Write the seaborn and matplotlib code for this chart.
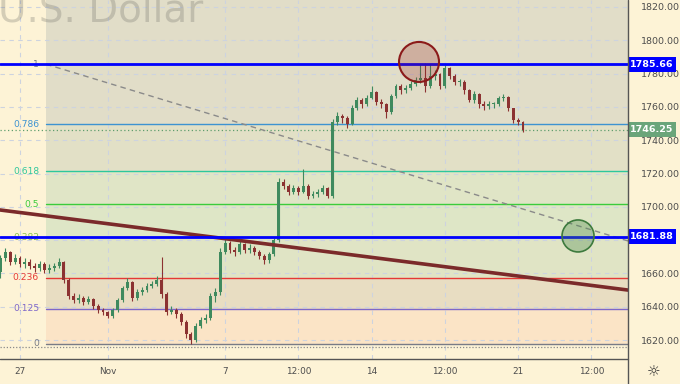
import numpy as np
import pandas as pd
import matplotlib
matplotlib.use("Agg")
import matplotlib.pyplot as plt
import seaborn as sns
from matplotlib.patches import Ellipse, Rectangle
from matplotlib.lines import Line2D

# ---------------- data ----------------
first_open = 1660.8
close = [1669.2, 1672.9, 1666.8, 1669.2, 1665.6, 1666.8, 1664.4, 1663.2, 1665.6, 1662.0,
         1663.2, 1664.4, 1666.8, 1656.0, 1646.4, 1644.0, 1645.2, 1642.8, 1644.6, 1640.4,
         1638.0, 1636.8, 1634.4, 1638.0, 1644.0, 1651.2, 1654.8, 1645.2, 1648.8, 1650.0,
         1652.4, 1653.6, 1656.0, 1647.6, 1636.8, 1638.0, 1635.6, 1630.8, 1623.6, 1620.2,
         1628.4, 1632.0, 1633.2, 1646.4, 1648.8, 1672.9, 1678.3, 1674.1, 1672.9, 1677.7,
         1674.1, 1675.3, 1672.9, 1670.4, 1668.0, 1671.7, 1680.1, 1714.9, 1712.5, 1708.9,
         1711.3, 1708.9, 1712.5, 1706.5, 1707.7, 1708.9, 1711.3, 1706.5, 1750.9, 1754.5,
         1753.3, 1749.7, 1759.3, 1764.1, 1761.7, 1765.3, 1768.9, 1762.9, 1761.7, 1756.9,
         1766.5, 1772.5, 1770.1, 1771.3, 1773.8, 1776.2, 1777.4, 1772.5, 1778.6, 1779.8,
         1772.5, 1783.4, 1778.6, 1775.0, 1775.0, 1770.1, 1764.1, 1767.7, 1761.7, 1760.5,
         1761.7, 1761.7, 1765.3, 1765.9, 1759.3, 1752.1, 1750.9, 1746.25]
high = [1671.0, 1675.0, 1673.5, 1671.5, 1670.5, 1669.0, 1668.5, 1666.0, 1667.5, 1667.0,
        1665.5, 1666.5, 1669.5, 1667.5, 1657.0, 1648.0, 1647.5, 1646.5, 1646.5, 1645.5,
        1641.5, 1639.5, 1637.5, 1639.5, 1645.5, 1652.5, 1657.2, 1655.5, 1650.5, 1652.0,
        1654.0, 1655.5, 1658.5, 1670.0, 1649.0, 1640.5, 1639.5, 1637.0, 1632.0, 1625.0,
        1630.0, 1634.0, 1635.5, 1648.0, 1651.0, 1675.0, 1680.5, 1679.5, 1676.0, 1679.5,
        1678.5, 1677.5, 1676.5, 1674.0, 1671.5, 1673.0, 1681.5, 1717.3, 1716.5, 1713.5,
        1713.0, 1712.5, 1722.7, 1713.5, 1709.5, 1710.5, 1713.0, 1712.0, 1752.5, 1757.0,
        1756.0, 1754.5, 1761.0, 1766.0, 1765.5, 1767.0, 1772.5, 1769.5, 1764.5, 1762.5,
        1768.0, 1774.0, 1773.5, 1773.0, 1775.5, 1778.0, 1785.8, 1786.4, 1785.5, 1782.2,
        1780.5, 1785.2, 1784.0, 1779.5, 1777.0, 1776.0, 1771.0, 1769.5, 1768.5, 1763.5,
        1763.5, 1763.0, 1766.5, 1767.7, 1766.5, 1759.5, 1753.3, 1751.5]
low = [1657.2, 1667.5, 1665.0, 1665.5, 1664.0, 1663.5, 1662.5, 1661.0, 1661.5, 1660.0,
       1660.5, 1661.5, 1663.0, 1654.5, 1644.5, 1642.0, 1642.5, 1641.0, 1641.5, 1638.5,
       1636.5, 1635.0, 1633.2, 1633.5, 1637.0, 1643.0, 1650.0, 1643.5, 1644.0, 1647.0,
       1649.0, 1651.0, 1652.5, 1645.5, 1635.0, 1635.5, 1633.5, 1629.0, 1621.5, 1617.7,
       1619.0, 1627.0, 1630.5, 1632.0, 1642.8, 1647.0, 1671.5, 1672.0, 1670.5, 1671.5,
       1672.0, 1672.5, 1671.0, 1668.5, 1665.6, 1666.5, 1670.5, 1679.0, 1710.5, 1707.0,
       1707.5, 1707.0, 1708.0, 1704.5, 1705.0, 1706.0, 1707.5, 1705.0, 1705.5, 1749.0,
       1750.5, 1747.5, 1749.0, 1758.0, 1759.5, 1760.5, 1764.5, 1761.0, 1759.5, 1753.3,
       1756.0, 1765.5, 1768.0, 1768.5, 1770.0, 1772.5, 1774.5, 1768.9, 1771.5, 1776.0,
       1770.5, 1771.5, 1776.5, 1773.0, 1772.5, 1768.0, 1762.9, 1762.5, 1759.5, 1758.1,
       1759.0, 1759.5, 1760.5, 1763.5, 1757.5, 1750.5, 1749.0, 1744.9]

x_tick_labels = ["27", "Nov", "7", "12:00", "14", "12:00", "21", "12:00"]
price_ticks = [1620, 1640, 1660, 1680, 1700, 1720, 1740, 1760, 1780, 1800, 1820]

fib_ratios = [1, 0.786, 0.618, 0.5, 0.382, 0.236, 0.125, 0]
fib_labels = ["1", "0.786", "0.618", "0.5", "0.382", "0.236", "0.125", "0"]
fib_high = 1785.66
fib_low = 1617.7

level_high = 1785.66
level_low = 1681.88
last_price = 1746.25
dotted_low = 1615.8

trend_prices = [1698.1, 1650.0]
dash_prices = [1785.66, 1679.5]
red_circle_price = 1787.0
green_circle_price = 1682.5

# ---------------- layout (time axis in trading days from Oct 27) ----------------
W, H = 680, 384
PX_PER_DAY = 29.3
X0, X1 = -0.683, 20.75
Y0, Y1 = 1608.6, 1824.2
tick_pos = [0, 3, 7, 9.5, 12, 14.5, 17, 19.5]
candle_start = -0.667
candles_per_day = 6
fib_start = 0.887

cream = "#fdf3d6"
up_col = "#3f8a5e"
dn_col = "#8c3232"

sns.set_theme(style="white")
plt.rcParams["font.family"] = ["DejaVu Sans"]

fig = plt.figure(figsize=(W / 100, H / 100), dpi=100)
fig.patch.set_facecolor(cream)
ax = fig.add_axes([0, 25 / H, 628 / W, 359 / H])
ax.set_facecolor(cream)
ax.set_xlim(X0, X1)
ax.set_ylim(Y0, Y1)
for s in ax.spines.values():
    s.set_visible(False)

# grid and ticks (the 1680 label is hidden behind the 1681.88 box in the reference)
ax.set_axisbelow("line")
ax.set_xticks(tick_pos)
ax.set_xticklabels(x_tick_labels)
ax.set_yticks(price_ticks)
ax.set_yticklabels(["" if p == 1680 else f"{p:.2f}" for p in price_ticks])
ax.yaxis.tick_right()
ax.grid(True, color="#cdd3df", lw=0.8, ls=(0, (4, 4)))
ax.tick_params(axis="y", length=0, pad=9, labelsize=6.8, labelcolor="#4d4d4d")
ax.tick_params(axis="x", length=0, pad=6, labelsize=6.4, labelcolor="#4d4d4d")

# fib bands
fib_prices = [fib_low + r * (fib_high - fib_low) for r in fib_ratios]
band_cols = ["#e1ddc8", "#e2e0c6", "#e0e5c6", "#dee6c6", "#e0e4c5", "#e8ddc2", "#fbe4c6"]
ax.fill_between([fib_start, X1], fib_high, Y1, color="#e1ddc8", lw=0, zorder=0.5)
for i in range(len(fib_prices) - 1):
    ax.fill_between([fib_start, X1], fib_prices[i + 1], fib_prices[i],
                    color=band_cols[i], lw=0, zorder=0.5)
fib_cols = ["#787b86", "#3d93d1", "#2ec79c", "#3ccc3c", "#8bc34a", "#e53935", "#7e67c9", "#787b86"]
for p, lab, c in zip(fib_prices, fib_labels, fib_cols):
    ax.plot([fib_start, X1], [p, p], color=c, lw=1.0, zorder=2)
    ax.text(0.65, p, lab, color=c, fontsize=6.6, ha="right", va="center", zorder=2)

# dotted lines
ax.axhline(last_price, color="#5f9e6e", lw=0.9, ls=(0, (1, 2)), zorder=2)
ax.axhline(dotted_low, color="#8a8a8a", lw=0.9, ls=(0, (1, 1.5)), zorder=2)

# dashed diagonal
ax.plot([fib_start, X1], dash_prices, color="#8a8a8a", lw=1.0, ls=(0, (4, 3)), zorder=2)

# candles
n = len(close)
xs = np.array([candle_start + i / candles_per_day for i in range(n)])
opens = np.array([first_open] + close[:-1])
cl = np.array(close)
cols = [up_col if c >= o else dn_col for o, c in zip(opens, cl)]
ax.vlines(xs, low, high, colors=cols, lw=0.8, zorder=4)
bottoms = np.minimum(opens, cl)
heights = np.maximum(np.abs(cl - opens), 0.4)
ax.bar(xs, heights, bottom=bottoms, width=0.1, color=cols, lw=0, zorder=4)

# trend line (seaborn)
sns.lineplot(x=[X0, X1], y=trend_prices, ax=ax, color="#7b2a2a", lw=2.6, zorder=5, sort=False)

# blue horizontal levels
ax.axhline(level_high, color="#0000ff", lw=2, zorder=6)
ax.axhline(level_low, color="#0000ff", lw=2, zorder=6)

# circles
rc_w, rc_h = 40 / PX_PER_DAY, 40 * (Y1 - Y0) / 359
ax.add_patch(Ellipse(((419 - 20) / PX_PER_DAY, red_circle_price), rc_w, rc_h,
                     facecolor=(0.6, 0.15, 0.15, 0.25), edgecolor="#8b1a1a", lw=1.5, zorder=7))
gc_w, gc_h = 32 / PX_PER_DAY, 32 * (Y1 - Y0) / 359
ax.add_patch(Ellipse(((578 - 20) / PX_PER_DAY, green_circle_price), gc_w, gc_h,
                     facecolor=(0.3, 0.55, 0.3, 0.35), edgecolor="#3d7a3d", lw=1.2, zorder=7))

# frame lines
fig.add_artist(Line2D([628 / W, 628 / W], [0, 1], color="#555555", lw=1))
fig.add_artist(Line2D([0, 628 / W], [25 / H, 25 / H], color="#555555", lw=1))

# price boxes on right scale
def to_fig_y(p):
    return (25 + (p - Y0) / (Y1 - Y0) * 359) / H

for p, bg in [(level_high, "#0000ff"), (last_price, "#6aa57a"), (level_low, "#0000ff")]:
    yc = to_fig_y(p)
    fig.add_artist(Rectangle((628 / W, yc - 7.5 / H), 48 / W, 15 / H,
                             facecolor=bg, edgecolor="none", transform=fig.transFigure))
    fig.text(652 / W, yc, f"{p:.2f}", color="white", fontsize=6.8, fontweight="bold",
             ha="center", va="center")

# watermark
fig.text(-2 / W, (H - 21) / H, "U.S. Dollar", fontsize=28, color=(0.42, 0.42, 0.40, 0.28),
         ha="left", va="baseline")

# settings icon
fig.text(654 / W, (H - 372) / H, "\u263c", fontsize=11, color="#333333", ha="center", va="center")

fig.savefig("out.png", dpi=100, facecolor=cream)
